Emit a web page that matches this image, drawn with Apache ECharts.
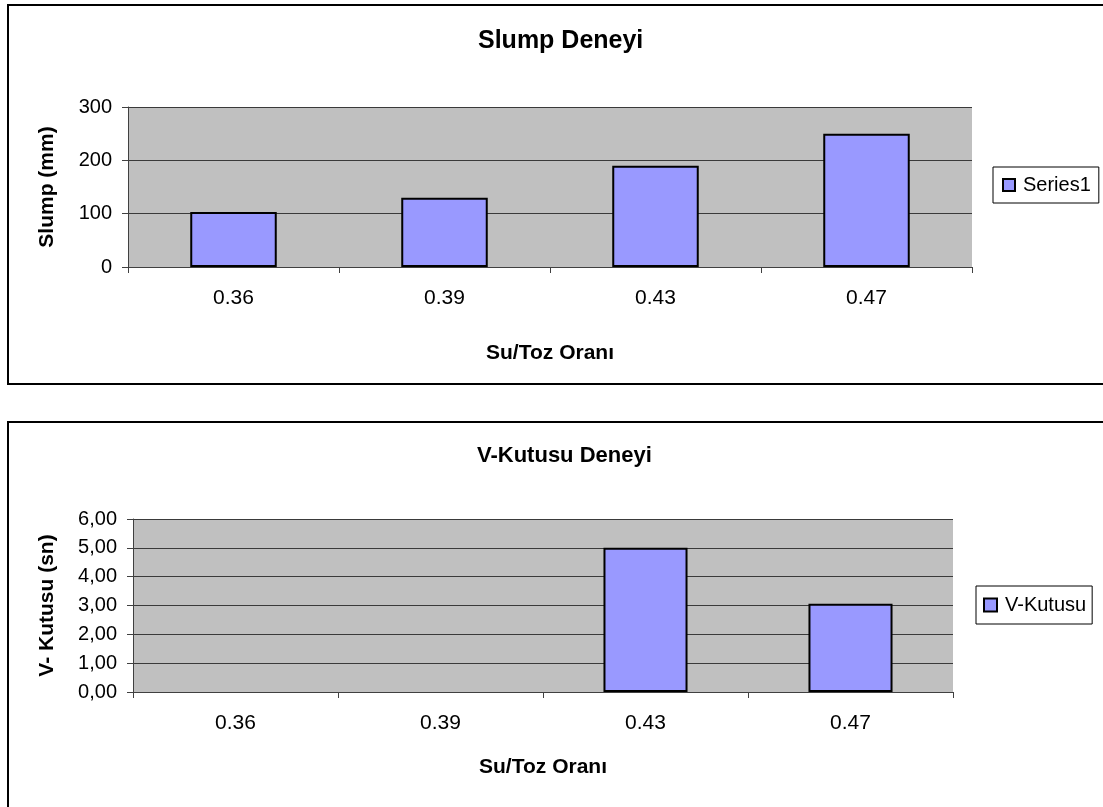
<!DOCTYPE html>
<html>
<head>
<meta charset="utf-8">
<script src="https://cdn.jsdelivr.net/npm/echarts@6/dist/echarts.min.js"></script>
<style>
  html, body { margin: 0; padding: 0; background: #ffffff; }
  #chart { width: 1103px; height: 807px; }
</style>
</head>
<body>
<div id="chart"></div>
<script>
// Water/powder ratios shared by both tests
const categories = ['0.36', '0.39', '0.43', '0.47'];
// Slump test results (mm)
const slumpValues = [103, 130, 190, 250];
// V-funnel flow times (s); no reading for the first two mixes
const vBoxValues = ['-', '-', 5.0, 3.06];

const slumpTicks = { min: 0, max: 300, interval: 100 };
const vBoxTicks = { min: 0, max: 6, interval: 1 };

const FONT = '"Liberation Sans", Arial, sans-serif';
const BAR_COLOR = '#9999FF';
const PLOT_BG = '#C0C0C0';
const GRID_LINE = '#3a3a3a';

const chart = echarts.init(document.getElementById('chart'), null, { renderer: 'canvas' });

function yAxisBase(ticks, name, gap, fmt) {
  return {
    type: 'value',
    min: ticks.min, max: ticks.max, interval: ticks.interval,
    name: name,
    nameLocation: 'middle',
    nameGap: gap,
    nameRotate: 90,
    nameTextStyle: { fontFamily: FONT, fontSize: 21, fontWeight: 'bold', color: '#000' },
    axisLine: { show: true, lineStyle: { color: '#404040', width: 1 } },
    axisTick: { show: true, length: 6, lineStyle: { color: '#404040' } },
    axisLabel: { fontFamily: FONT, fontSize: 20, color: '#000', margin: 16, formatter: fmt },
    splitLine: { show: true, lineStyle: { color: GRID_LINE, width: 1 } }
  };
}

function xAxisBase(name, gap) {
  return {
    type: 'category',
    data: categories,
    name: name,
    nameLocation: 'middle',
    nameGap: gap,
    nameTextStyle: { fontFamily: FONT, fontSize: 21, fontWeight: 'bold', color: '#000' },
    axisLine: { show: true, lineStyle: { color: '#404040', width: 1 } },
    axisTick: { show: true, length: 6, lineStyle: { color: '#404040' } },
    axisLabel: { fontFamily: FONT, fontSize: 21, color: '#000', margin: 21 },
    splitLine: { show: false }
  };
}

function legendBox(left, top, padding, iconSize) {
  return {
    left: left, top: top,
    orient: 'vertical',
    padding: padding,
    itemWidth: iconSize, itemHeight: iconSize,
    icon: 'rect',
    borderColor: '#000', borderWidth: 1,
    backgroundColor: '#fff',
    textStyle: { fontFamily: FONT, fontSize: 20, color: '#000', lineHeight: 22, padding: [0, 0, 0, 3] }
  };
}

const option = {
  backgroundColor: '#ffffff',
  animation: false,
  title: [
    {
      text: 'Slump Deneyi', left: 473, top: 24,
      textStyle: { fontFamily: FONT, fontSize: 25, fontWeight: 'bold', color: '#000' }
    },
    {
      text: 'V-Kutusu Deneyi', left: 472, top: 440,
      textStyle: { fontFamily: FONT, fontSize: 22, fontWeight: 'bold', color: '#000' }
    }
  ],
  legend: [
    Object.assign(legendBox(993, 167, [7, 8, 7, 9], 12), { data: ['Series1'] }),
    Object.assign(legendBox(976, 586, [8, 6, 8, 7], 13), { data: ['V-Kutusu'] })
  ],
  grid: [
    { left: 128, top: 107, width: 844, height: 160, show: true, backgroundColor: PLOT_BG, borderWidth: 0 },
    { left: 133, top: 519, width: 820, height: 173, show: true, backgroundColor: PLOT_BG, borderWidth: 0 }
  ],
  xAxis: [
    Object.assign(xAxisBase('Su/Toz Oranı', 76), { gridIndex: 0 }),
    Object.assign(xAxisBase('Su/Toz Oranı', 65), { gridIndex: 1 })
  ],
  yAxis: [
    Object.assign(yAxisBase(slumpTicks, 'Slump (mm)', 70, v => String(v)), { gridIndex: 0 }),
    Object.assign(yAxisBase(vBoxTicks, 'V- Kutusu (sn)', 75, v => v.toFixed(2).replace('.', ',')), { gridIndex: 1 })
  ],
  series: [
    {
      name: 'Series1', type: 'bar', xAxisIndex: 0, yAxisIndex: 0,
      data: slumpValues, barCategoryGap: '59%',
      itemStyle: { color: BAR_COLOR, borderColor: '#000', borderWidth: 2 }
    },
    {
      name: 'V-Kutusu', type: 'bar', xAxisIndex: 1, yAxisIndex: 1,
      data: vBoxValues, barCategoryGap: '59%',
      itemStyle: { color: BAR_COLOR, borderColor: '#000', borderWidth: 2 }
    }
  ],
  graphic: [
    // chart area frames
    { type: 'rect', silent: true, z: 100,
      shape: { x: 8, y: 5, width: 1110, height: 379 },
      style: { fill: 'none', stroke: '#000', lineWidth: 2 } },
    { type: 'rect', silent: true, z: 100,
      shape: { x: 8, y: 422, width: 1110, height: 400 },
      style: { fill: 'none', stroke: '#000', lineWidth: 2 } }
  ]
};

chart.setOption(option);
</script>
</body>
</html>
